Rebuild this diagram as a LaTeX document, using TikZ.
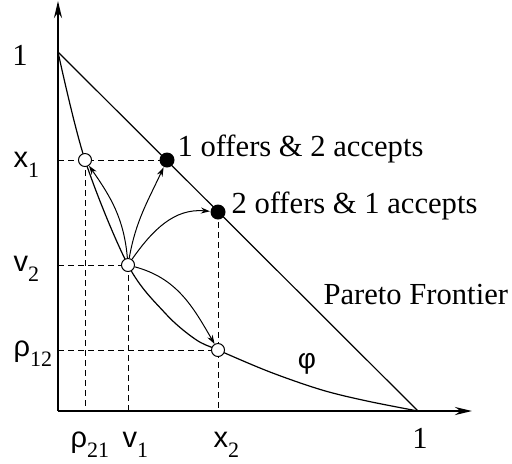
\documentclass[tikz,border=0pt]{standalone}
\usepackage{fontspec}
\setmainfont{Liberation Serif}
\setsansfont{Liberation Sans}
\usetikzlibrary{arrows.meta}

\newcommand{\ax}[2]{{\sffamily\fontsize{14.5}{16}\selectfont #1\raisebox{-5pt}{\rmfamily\fontsize{11}{12}\selectfont #2}}}

\begin{document}
\begin{tikzpicture}[
    x=0.5pt, y=-0.5pt,
    line width=0.6pt,
    axis/.style={line width=1.2pt, -{Stealth[length=8.5pt,width=4pt]}},
    guide/.style={dashed, dash pattern=on 3pt off 2pt, line width=0.5pt},
    move/.style={-{Stealth[length=4.5pt,width=3pt]}, line width=0.5pt},
    hollow/.style={circle, draw, fill=white, inner sep=0pt, minimum size=6.5pt, line width=0.5pt},
    solid/.style={circle, fill=black, inner sep=0pt, minimum size=7.5pt},
    lab/.style={font=\fontsize{15.3}{18}\selectfont},
    axlab/.style={anchor=base west, inner sep=0pt}
]
\useasboundingbox (0,0) rectangle (512,463);
\coordinate (O) at (58,411);
\coordinate (ytop) at (58,1);
\coordinate (xend) at (472,411);
\coordinate (top) at (58,52);
\coordinate (right) at (418,411);
% dashed guides first, points drawn over them
\coordinate (x1) at (58,160);
\coordinate (v2) at (58,265);
\coordinate (r12y) at (58,350);
\coordinate (r21x) at (85,411);
\coordinate (v1) at (128,411);
\coordinate (x2) at (218,411);
\coordinate (p1c) at (167,160);
\coordinate (vc) at (128,265);
\coordinate (r12c) at (218,350);
\coordinate (p2c) at (218,212);
\coordinate (r21c) at (85,160);
\draw[guide] (x1) -- (p1c);
\draw[guide] (v2) -- (vc);
\draw[guide] (r12y) -- (r12c);
\draw[guide] (r21c) -- (r21x);
\draw[guide] (vc) -- (v1);
\draw[guide] (p2c) -- (x2);
% frontier and phi curve
\draw (top) -- (right);
\draw plot[smooth, tension=0.55] coordinates {(top) (r21c) (vc) (165,313) (195,339) (r12c) (270,372) (322,390) (367,401) (right)};
% axes
\draw[axis] (O) -- (ytop);
\draw[axis] (O) -- (xend);
% points
\node[hollow] (r21) at (r21c) {};
\node[hollow] (v) at (vc) {};
\node[hollow] (r12) at (r12c) {};
\node[solid] (p1) at (p1c) {};
\node[solid] (p2) at (p2c) {};
% moves
\draw[move] (v) to[out=95, in=-55] (r21);
\draw[move] (v) to[out=80, in=-115] (p1);
\draw[move] (v) to[out=55, in=175] (p2);
\draw[move] (v) to[out=-15, in=120] (r12);
% labels
\node[lab] (one-y) at (20,55) {1};
\node[lab] (one-x) at (420,438) {1};
\node[axlab] (lx1) at (13,167) {\ax{x}{1}};
\node[axlab] (lv2) at (13,271) {\ax{v}{2}};
\node[axlab] (lr12) at (13,356) {\ax{ρ}{12}};
\node[axlab] (lr21) at (70,447) {\ax{ρ}{21}};
\node[axlab] (lv1) at (122,447) {\ax{v}{1}};
\node[axlab] (lx2) at (213,447) {\ax{x}{2}};
\node[font=\sffamily\fontsize{14}{16}\selectfont] (phi) at (307,364) {φ};
\node[lab, anchor=west, inner sep=0pt] (lab1) at (177,149) {1 offers \& 2 accepts};
\node[lab, anchor=west, inner sep=0pt] (lab2) at (231,206) {2 offers \& 1 accepts};
\node[lab, anchor=west, inner sep=0pt] (pareto) at (323,294) {Pareto Frontier};
\end{tikzpicture}
\end{document}
